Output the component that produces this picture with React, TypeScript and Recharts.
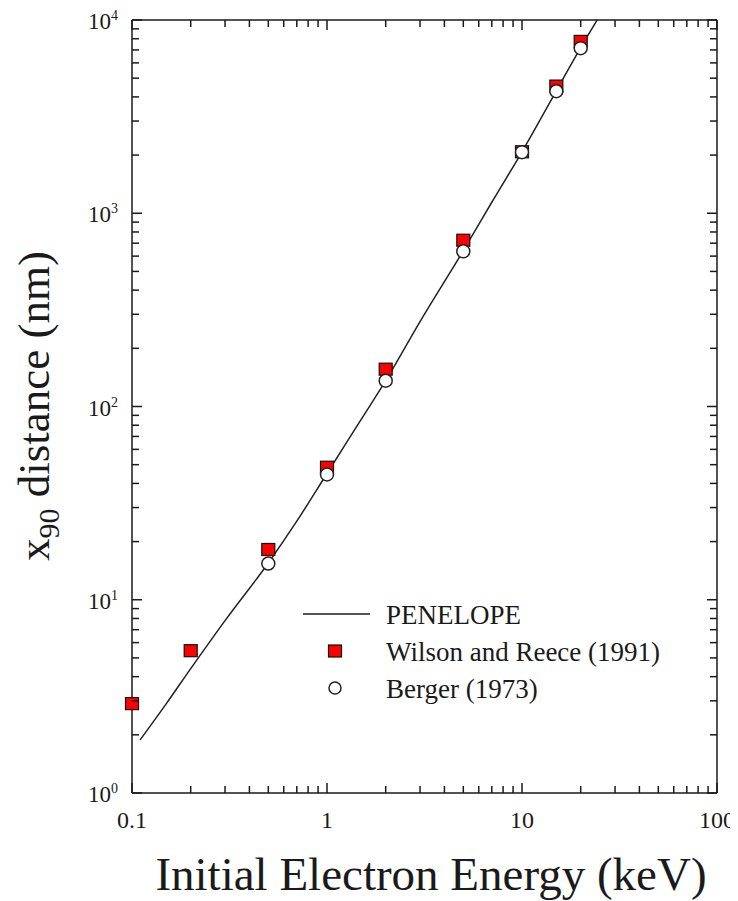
import React from "react"
import { ComposedChart, Line, Scatter, XAxis, YAxis, Legend } from "recharts"

// PENELOPE curve (keV, nm)
const penelopeEnergy = [0.11, 0.15, 0.2, 0.3, 0.5, 0.7, 1, 1.5, 2, 3, 5, 7, 10, 15, 20, 24.3]
const penelopeRange = [1.88, 2.9, 4.4, 7.8, 15.5, 25.5, 45, 86, 136, 275, 640, 1140, 2080, 4300, 7200, 10000]

// Wilson and Reece (1991)
const wilsonEnergy = [0.1, 0.2, 0.5, 1, 2, 5, 10, 15, 20]
const wilsonRange = [2.9, 5.45, 18.2, 48.5, 156, 725, 2080, 4550, 7750]

// Berger (1973)
const bergerEnergy = [0.5, 1, 2, 5, 10, 15, 20]
const bergerRange = [15.4, 44.5, 136, 635, 2070, 4280, 7150]

const xMajor = [0.1, 1, 10, 100]
const xMajorLabels = ["0.1", "1", "10", "100"]
const yMajor = [1, 10, 100, 1000, 10000]
const yExponents = ["0", "1", "2", "3", "4"]
const minorSteps = [2, 3, 4, 5, 6, 7, 8, 9]

const FONT = '"Liberation Serif", "Times New Roman", serif'
const INK = "#1a1a1a"

const withMinor = (majors: number[]) => {
  const out: number[] = []
  majors.forEach((m, i) => {
    out.push(m)
    if (i < majors.length - 1) minorSteps.forEach((s) => out.push(+(m * s).toPrecision(6)))
  })
  return out
}
const xTicks = withMinor(xMajor)
const yTicks = withMinor(yMajor)

const isMajor = (v: number) => Math.abs(Math.log10(v) - Math.round(Math.log10(v))) < 1e-6

const penelopeData = penelopeEnergy.map((x, i) => ({ x, y: penelopeRange[i] }))
const wilsonData = wilsonEnergy.map((x, i) => ({ x, y: wilsonRange[i] }))
const bergerData = bergerEnergy.map((x, i) => ({ x, y: bergerRange[i] }))

const BottomTick = (props: any) => {
  const { x, y, payload } = props
  const v = payload.value
  const major = isMajor(v)
  const idx = xMajor.findIndex((m) => Math.abs(m - v) < 1e-9)
  return (
    <g>
      <line x1={x} x2={x} y1={y} y2={y - (major ? 10 : 7)} stroke={INK} strokeWidth={1.5} />
      {idx >= 0 && (
        <text x={x} y={y + 35} textAnchor="middle" fontFamily={FONT} fontSize={24} fill={INK}>
          {xMajorLabels[idx]}
        </text>
      )}
    </g>
  )
}

const TopTick = (props: any) => {
  const { x, y, payload } = props
  const major = isMajor(payload.value)
  return <line x1={x} x2={x} y1={y} y2={y + (major ? 10 : 7)} stroke={INK} strokeWidth={1.5} />
}

const LeftTick = (props: any) => {
  const { x, y, payload } = props
  const v = payload.value
  const major = isMajor(v)
  const idx = yMajor.findIndex((m) => Math.abs(m - v) < 1e-9)
  return (
    <g>
      <line x1={x} x2={x + (major ? 10 : 7)} y1={y} y2={y} stroke={INK} strokeWidth={1.5} />
      {idx >= 0 && (
        <text x={x - 14} y={y + 9} textAnchor="end" fontFamily={FONT} fontSize={23} fill={INK}>
          10
          <tspan dy={-9} fontSize={14}>
            {yExponents[idx]}
          </tspan>
        </text>
      )}
    </g>
  )
}

const RightTick = (props: any) => {
  const { x, y, payload } = props
  const major = isMajor(payload.value)
  return <line x1={x} x2={x - (major ? 10 : 7)} y1={y} y2={y} stroke={INK} strokeWidth={1.5} />
}

const RedSquare = (props: any) => {
  const { cx, cy } = props
  return <rect x={cx - 6.5} y={cy - 6} width={13} height={12} fill="#ff0000" stroke="#111" strokeWidth={1.2} />
}

const OpenCircle = (props: any) => {
  const { cx, cy } = props
  return <circle cx={cx} cy={cy} r={6.5} fill="#fff" stroke="#222" strokeWidth={1.5} />
}

const LegendBox = () => (
  <svg width={400} height={115} style={{ display: "block" }}>
    <line x1={5} x2={72} y1={21} y2={21} stroke={INK} strokeWidth={1.5} />
    <text x={88} y={31} fontFamily={FONT} fontSize={27} fill={INK}>
      PENELOPE
    </text>
    <RedSquare cx={37} cy={58} />
    <text x={88} y={68} fontFamily={FONT} fontSize={27} fill={INK}>
      Wilson and Reece (1991)
    </text>
    <circle cx={37} cy={95} r={6} fill="#fff" stroke="#222" strokeWidth={1.5} />
    <text x={88} y={105} fontFamily={FONT} fontSize={27} fill={INK}>
      Berger (1973)
    </text>
  </svg>
)

export default function App() {
  return (
    <div style={{ position: "relative", width: 730, height: 893 }}>
      <ComposedChart width={730} height={893} margin={{ top: 11, right: 20, left: 24, bottom: 0 }}>
        <XAxis
          dataKey="x"
          type="number"
          scale="log"
          domain={[0.1, 100]}
          ticks={xTicks}
          interval={0}
          tickSize={0}
          tickMargin={0}
          tick={<BottomTick />}
          axisLine={{ stroke: INK, strokeWidth: 1.5 }}
          height={108}
        />
        <XAxis
          xAxisId="top"
          orientation="top"
          dataKey="x"
          type="number"
          scale="log"
          domain={[0.1, 100]}
          allowDataOverflow
          ticks={xTicks}
          interval={0}
          tickSize={0}
          tickMargin={0}
          tick={<TopTick />}
          axisLine={{ stroke: INK, strokeWidth: 1.5 }}
          height={1}
        />
        <YAxis
          dataKey="y"
          type="number"
          scale="log"
          domain={[1, 10000]}
          ticks={yTicks}
          interval={0}
          tickSize={0}
          tickMargin={0}
          tick={<LeftTick />}
          axisLine={{ stroke: INK, strokeWidth: 1.5 }}
          width={100}
        />
        <YAxis
          yAxisId="right"
          orientation="right"
          dataKey="y"
          type="number"
          scale="log"
          domain={[1, 10000]}
          allowDataOverflow
          ticks={yTicks}
          interval={0}
          tickSize={0}
          tickMargin={0}
          tick={<RightTick />}
          axisLine={{ stroke: INK, strokeWidth: 1.5 }}
          width={1}
        />
        <Line
          data={penelopeData}
          dataKey="y"
          name="PENELOPE"
          type="monotone"
          stroke="#222"
          strokeWidth={1.5}
          dot={false}
          isAnimationActive={false}
        />
        <Scatter data={wilsonData} dataKey="y" name="Wilson and Reece (1991)" shape={<RedSquare />} isAnimationActive={false} />
        <Scatter data={bergerData} dataKey="y" name="Berger (1973)" shape={<OpenCircle />} isAnimationActive={false} />
        <Legend
          layout="vertical"
          align="center"
          verticalAlign="middle"
          content={<LegendBox />}
          wrapperStyle={{ position: "absolute", left: 290, top: 585, width: 400, height: 115 }}
        />
        <text x={41} y={398} transform="rotate(-90 41 398)" textAnchor="middle" fontFamily={FONT} fontSize={45} fill={INK}>
          x<tspan dy={10} fontSize={30}>90</tspan>
          <tspan dy={-10}> distance (nm)</tspan>
        </text>
        <text x={423} y={882} textAnchor="middle" fontFamily={FONT} fontSize={47} fill={INK}>
          Initial Electron Energy (keV)
        </text>
      </ComposedChart>
    </div>
  )
}
